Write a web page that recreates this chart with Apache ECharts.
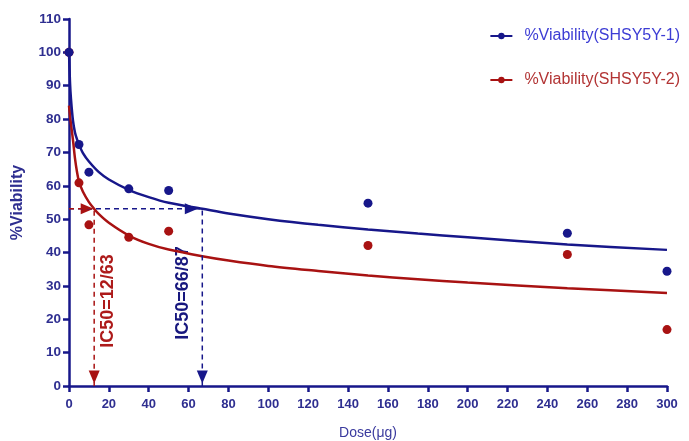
<!DOCTYPE html>
<html>
<head>
<meta charset="utf-8">
<script src="https://cdn.jsdelivr.net/npm/echarts@6/dist/echarts.min.js"></script>
<style>
  html, body { margin: 0; padding: 0; background: #fff; }
  #main { width: 689px; height: 441px; }
</style>
</head>
<body>
<div id="main"></div>
<script>
// measured points
var dose1 = [0, 5, 10, 30, 50, 150, 250, 300];
var viab1 = [100, 72.4, 64.1, 59.1, 58.6, 54.8, 45.8, 34.4];
var dose2 = [0, 5, 10, 30, 50, 150, 250, 300];
var viab2 = [100, 60.9, 48.3, 44.6, 46.4, 42.1, 39.4, 16.9];

// fitted curves
var fitX1 = [0, 0.5, 1, 2, 3, 4, 5, 7, 10, 15, 20, 30, 40, 50, 66.87, 80, 100, 125, 150, 175, 200, 250, 300];
var fitY1 = [100, 91, 86, 79.5, 76, 74, 72.4, 69.8, 67.3, 64.1, 61.9, 58.8, 56.6, 54.9, 53.1, 51.7, 50.0, 48.3, 46.9, 45.7, 44.6, 42.4, 40.8];
var fitX2 = [0, 0.5, 1, 2, 3, 4, 5, 7, 10, 12.63, 15, 20, 30, 40, 50, 66.87, 80, 100, 125, 150, 175, 200, 250, 300];
var fitY2 = [84, 81, 78.5, 73.7, 68.2, 64.2, 61.3, 58.2, 55.1, 53.1, 51.5, 48.9, 45.1, 42.6, 40.9, 38.9, 37.6, 36.0, 34.5, 33.1, 32.0, 31.0, 29.3, 27.9];

var ic50_1 = 66.87, ic50_2 = 12.63, halfY = 53.1;
var names = ['%Viability(SHSY5Y-1)', '%Viability(SHSY5Y-2)'];

var navy = '#17178a', red = '#a81212';
function pairs(xs, ys) {
  return xs.map(function (x, i) { return [x, ys[i]]; });
}

var myChart = echarts.init(document.getElementById('main'));
var option = {
  animation: false,
  grid: { left: 69, right: 22, top: 19, bottom: 55, outerBoundsMode: 'none', containLabel: false },
  legend: {
    orient: 'vertical',
    right: 4,
    top: 23,
    itemGap: 28,
    itemWidth: 22,
    itemHeight: 8,
    data: [
      { name: names[0], textStyle: { color: '#3c3cd4' } },
      { name: names[1], textStyle: { color: '#b23434' } }
    ],
    textStyle: { fontSize: 16, fontFamily: 'Liberation Sans', padding: [0, 0, 0, 7] }
  },
  xAxis: {
    type: 'value', min: 0, max: 300, interval: 20,
    name: 'Dose(μg)', nameLocation: 'middle', nameGap: 40,
    nameTextStyle: { color: '#3a3a9e', fontSize: 14, fontFamily: 'Liberation Sans' },
    splitLine: { show: false },
    axisLine: { lineStyle: { color: navy, width: 2.5 } },
    axisTick: { length: 6, lineStyle: { color: navy, width: 2.5 } },
    axisLabel: { color: '#2e2e90', fontWeight: 'bold', fontSize: 13, margin: 12, fontFamily: 'Liberation Sans' }
  },
  yAxis: {
    type: 'value', min: 0, max: 110, interval: 10,
    name: '%Viability', nameLocation: 'middle', nameGap: 43,
    nameTextStyle: { color: '#2e2e90', fontSize: 16, fontWeight: 'bold', fontFamily: 'Liberation Sans' },
    splitLine: { show: false },
    axisLine: { show: true, lineStyle: { color: navy, width: 2.5 } },
    axisTick: { show: true, length: 6, lineStyle: { color: navy, width: 2.5 } },
    axisLabel: { color: '#2e2e90', fontWeight: 'bold', fontSize: 13.5, margin: 8, fontFamily: 'Liberation Sans' }
  },
  series: [
    {
      name: names[1], type: 'line', data: pairs(fitX2, fitY2),
      smooth: 0.3, showSymbol: false, symbol: 'circle', symbolSize: 8,
      lineStyle: { color: red, width: 2.5 }, itemStyle: { color: red }
    },
    {
      name: names[0], type: 'line', data: pairs(fitX1, fitY1),
      smooth: 0.3, showSymbol: false, symbol: 'circle', symbolSize: 8,
      lineStyle: { color: navy, width: 2.5 }, itemStyle: { color: navy }
    },
    {
      name: names[1], type: 'scatter', data: pairs(dose2, viab2),
      symbolSize: 9, itemStyle: { color: red, opacity: 1 }
    },
    {
      name: names[0], type: 'scatter', data: pairs(dose1, viab1),
      symbolSize: 9, itemStyle: { color: navy, opacity: 1 }
    },
    // IC50 guides
    {
      type: 'line', data: [[0, halfY], [ic50_1, halfY], [ic50_1, 0]],
      showSymbol: false, silent: true,
      lineStyle: { color: navy, width: 1.5, type: [5, 4] }
    },
    {
      type: 'line', data: [[0, halfY], [ic50_2, halfY], [ic50_2, 0]],
      showSymbol: false, silent: true,
      lineStyle: { color: red, width: 1.5, type: [5, 4] }
    },
    {
      type: 'scatter', silent: true, symbol: 'triangle', symbolSize: [11, 13],
      data: [
        { value: [ic50_1 - 5.5, halfY], symbolRotate: -90, itemStyle: { color: navy, opacity: 1 } },
        { value: [ic50_2 - 3.5, halfY], symbolRotate: -90, itemStyle: { color: red, opacity: 1 } },
        { value: [ic50_1, 2.7], symbolRotate: 180, itemStyle: { color: navy, opacity: 1 } },
        { value: [ic50_2, 2.7], symbolRotate: 180, itemStyle: { color: red, opacity: 1 } }
      ]
    },
    {
      type: 'scatter', silent: true, symbolSize: 0,
      itemStyle: { opacity: 1 },
      label: {
        show: true, position: 'inside', rotate: 90, fontSize: 18, fontWeight: 'bold',
        fontFamily: 'Liberation Sans', textBorderWidth: 0,
        formatter: function (p) { return p.data.txt; }
      },
      data: [
        { value: [19.6, 25.5], txt: 'IC50=12/63', label: { color: '#ad1a1a' } },
        { value: [57.2, 27.9], txt: 'IC50=66/87', label: { color: '#17177e' } }
      ]
    }
  ]
};
myChart.setOption(option);
window.addEventListener('resize', function () {
  myChart.resize();
});
</script>
</body>
</html>
